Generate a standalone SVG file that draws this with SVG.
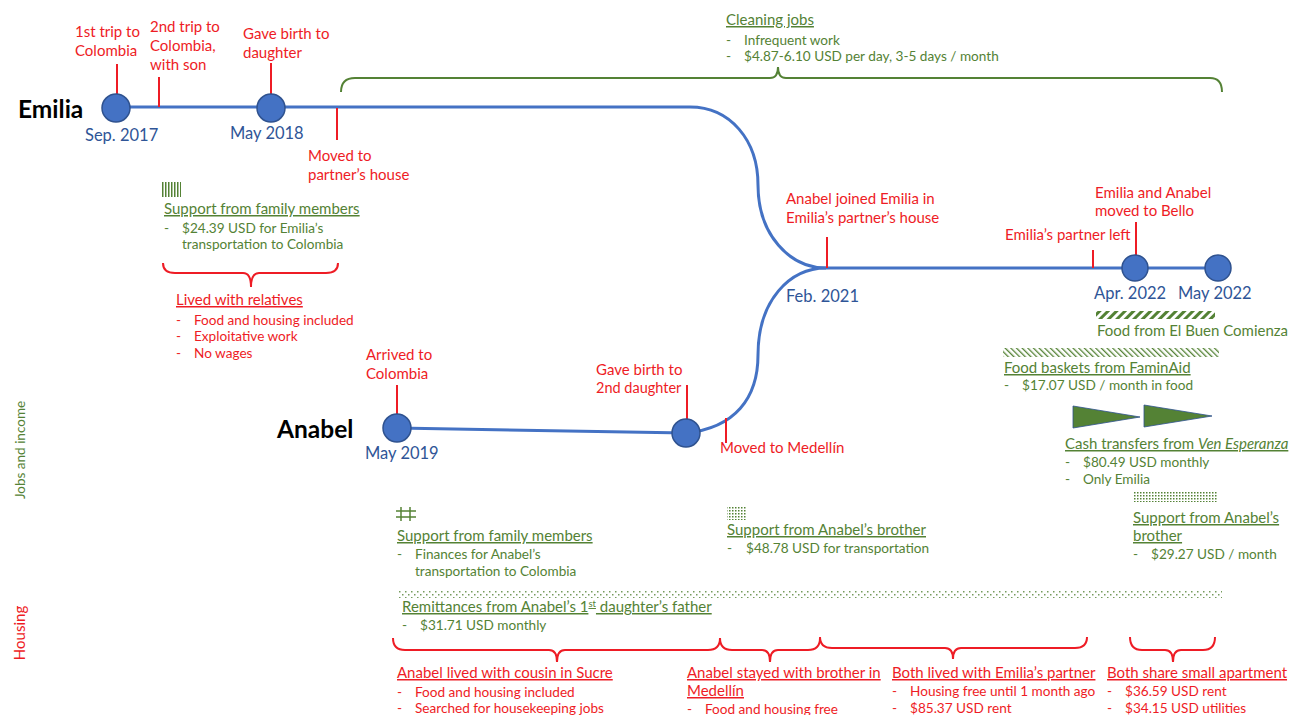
<svg xmlns="http://www.w3.org/2000/svg" width="1290" height="715" viewBox="0 0 1290 715">
<style>
text{font-family:Lato,"Liberation Sans",sans-serif}
.r{fill:#ee1c25;font-size:15px}
.g{fill:#548235;font-size:13.6px}
.gh{fill:#548235;font-size:15px;text-decoration:underline}
.rh{fill:#ee1c25;font-size:15px;text-decoration:underline}
.rb{fill:#ee1c25;font-size:13.6px}
.d{fill:#2f5597;font-size:16.5px}
.n{fill:#000;font-size:24.5px;font-weight:bold}
.tl{fill:none;stroke:#4472c4;stroke-width:3}
.tk{stroke:#ee1c25;stroke-width:2}
.c{fill:#4472c4;stroke:#2f528f;stroke-width:1.5}
.gb{fill:none;stroke:#548235;stroke-width:2}
.rbr{fill:none;stroke:#ee1c25;stroke-width:2}
</style>
<defs>
<pattern id="pv" width="3" height="10" patternUnits="userSpaceOnUse"><rect x="0" y="0" width="1.5" height="10" fill="#548235"/></pattern>
<pattern id="pdot" width="3" height="3" patternUnits="userSpaceOnUse"><rect x="0" y="0" width="1.5" height="1.5" fill="#548235"/></pattern>
<pattern id="pdot2" width="6" height="6" patternUnits="userSpaceOnUse"><rect x="0" y="0" width="1.5" height="1.5" fill="#548235"/><rect x="3" y="3" width="1.5" height="1.5" fill="#548235"/></pattern>
<pattern id="pdiag" width="6" height="6" patternUnits="userSpaceOnUse" patternTransform="rotate(45)"><rect x="0" y="0" width="3" height="6" fill="#548235"/></pattern>
<pattern id="pdiag2" width="4" height="4" patternUnits="userSpaceOnUse" patternTransform="rotate(-45)"><rect x="0" y="0" width="1.3" height="4" fill="#548235"/></pattern>
</defs>

<g id="axis-labels">
<text transform="translate(25 450) rotate(-90)" text-anchor="middle" style="fill:#548235;font-size:13.5px">Jobs and income</text>
<text transform="translate(25 633) rotate(-90)" text-anchor="middle" style="fill:#ee1c25;font-size:15px">Housing</text>
</g>

<g id="connectors">
<path class="tl" d="M116 107 L690 107 C730 107 758 140 758 185 C758 235 790 268 826 268 L1218 268"/>
<path class="tl" d="M397 428 L686 433 C735 428 758 398 758 355 C758 300 790 268 826 268"/>
<line class="tk" x1="117" y1="64" x2="117" y2="94"/>
<line class="tk" x1="159" y1="77" x2="159" y2="107"/>
<line class="tk" x1="271" y1="63" x2="271" y2="94"/>
<line class="tk" x1="337" y1="108" x2="337" y2="140"/>
<line class="tk" x1="827" y1="237" x2="827" y2="268"/>
<line class="tk" x1="1093" y1="250" x2="1093" y2="268"/>
<line class="tk" x1="1136" y1="222" x2="1136" y2="255"/>
<line class="tk" x1="397" y1="385" x2="397" y2="414"/>
<line class="tk" x1="687" y1="385" x2="687" y2="420"/>
<line class="tk" x1="726" y1="418" x2="726" y2="443"/>
</g>

<g id="emilia">
<text class="n" x="18" y="118">Emilia</text>
<circle class="c" cx="116" cy="108" r="14"/>
<circle class="c" cx="271" cy="108" r="14"/>
<text class="d" x="85" y="141">Sep. 2017</text>
<text class="d" x="230" y="139">May 2018</text>
<text class="r" x="75" y="37">1st trip to</text>
<text class="r" x="75" y="56">Colombia</text>
<text class="r" x="150" y="32">2nd trip to</text>
<text class="r" x="150" y="51">Colombia,</text>
<text class="r" x="150" y="70">with son</text>
<text class="r" x="243" y="39">Gave birth to</text>
<text class="r" x="243" y="58">daughter</text>
<text class="r" x="308" y="161">Moved to</text>
<text class="r" x="308" y="180">partner’s house</text>
</g>

<g id="anabel">
<text class="n" x="277" y="438">Anabel</text>
<circle class="c" cx="397" cy="428" r="14"/>
<circle class="c" cx="686" cy="433" r="14"/>
<text class="d" x="365" y="459">May 2019</text>
<text class="r" x="366" y="360">Arrived to</text>
<text class="r" x="366" y="379">Colombia</text>
<text class="r" x="596" y="375">Gave birth to</text>
<text class="r" x="596" y="393" style="font-size:14.5px">2nd daughter</text>
<text class="r" x="720" y="453">Moved to Medellín</text>
</g>

<g id="together">
<circle class="c" cx="1135" cy="268" r="13"/>
<circle class="c" cx="1218" cy="268" r="13"/>
<text class="d" x="786" y="302">Feb. 2021</text>
<text class="d" x="1094" y="299">Apr. 2022</text>
<text class="d" x="1178" y="299">May 2022</text>
<text class="r" x="786" y="204">Anabel joined Emilia in</text>
<text class="r" x="786" y="223">Emilia’s partner’s house</text>
<text class="r" x="1005" y="240">Emilia’s partner left</text>
<text class="r" x="1095" y="198">Emilia and Anabel</text>
<text class="r" x="1095" y="216">moved to Bello</text>
</g>

<g id="cleaning-jobs">
<path class="gb" d="M341 92 Q341 78 355 78 L770 78 Q778 78 778 67 Q778 78 786 78 L1210 78 Q1222 78 1222 92"/>
<text class="gh" x="726" y="25">Cleaning jobs</text>
<text class="g" x="726" y="45">-</text><text class="g" x="744" y="45">Infrequent work</text>
<text class="g" x="726" y="61">-</text><text class="g" x="744" y="61">$4.87-6.10 USD per day, 3-5 days / month</text>
</g>

<g id="emilia-family-support">
<rect x="161" y="182" width="20" height="15" fill="url(#pv)"/>
<text class="gh" x="164" y="214">Support from family members</text>
<text class="g" x="164" y="233">-</text><text class="g" x="182" y="233">$24.39 USD for Emilia’s</text>
<text class="g" x="182" y="249">transportation to Colombia</text>
</g>

<g id="lived-with-relatives">
<path class="rbr" d="M163 263 Q163 273 175 273 L243 273 Q251 273 251 287 Q251 273 259 273 L326 273 Q338 273 338 263"/>
<text class="rh" x="176" y="305">Lived with relatives</text>
<text class="rb" x="176" y="325">-</text><text class="rb" x="194" y="325">Food and housing included</text>
<text class="rb" x="176" y="341">-</text><text class="rb" x="194" y="341">Exploitative work</text>
<text class="rb" x="176" y="358">-</text><text class="rb" x="194" y="358">No wages</text>
</g>

<g id="anabel-family-support">
<g stroke="#548235" stroke-width="1.5">
<line x1="401" y1="507" x2="401" y2="521"/><line x1="410" y1="507" x2="410" y2="521"/>
<line x1="396" y1="511" x2="416" y2="511"/><line x1="396" y1="517" x2="416" y2="517"/>
</g>
<text class="gh" x="397" y="541">Support from family members</text>
<text class="g" x="397" y="559">-</text><text class="g" x="415" y="559">Finances for Anabel’s</text>
<text class="g" x="415" y="576">transportation to Colombia</text>
</g>

<g id="anabel-brother-support">
<rect x="727" y="507" width="20" height="13" fill="url(#pdot)"/>
<text class="gh" x="727" y="535">Support from Anabel’s brother</text>
<text class="g" x="727" y="553">-</text><text class="g" x="746" y="553">$48.78 USD for transportation</text>
</g>

<g id="remittances">
<rect x="398" y="590" width="824" height="8" fill="url(#pdot2)" opacity="0.8"/>
<text class="gh" x="402" y="612">Remittances from Anabel’s 1<tspan font-size="9.5" dy="-5">st</tspan><tspan dy="5"> daughter’s father</tspan></text>
<text class="g" x="402" y="630">-</text><text class="g" x="420" y="630">$31.71 USD monthly</text>
</g>

<g id="food-el-buen-comienza">
<rect x="1096" y="311" width="119" height="8" fill="url(#pdiag)"/>
<text class="g" x="1097" y="336" style="font-size:15px">Food from El Buen Comienza</text>
</g>

<g id="faminaid">
<rect x="1003" y="348" width="216" height="9" fill="url(#pdiag2)"/>
<text class="gh" x="1004" y="373">Food baskets from FaminAid</text>
<text class="g" x="1004" y="390">-</text><text class="g" x="1022" y="390">$17.07 USD / month in food</text>
</g>

<g id="ven-esperanza">
<polygon points="1073,406 1073,428 1140,417" fill="#548235" stroke="#2f528f" stroke-width="0.8"/>
<polygon points="1144,405 1144,427 1212,416" fill="#548235" stroke="#2f528f" stroke-width="0.8"/>
<text class="gh" x="1065" y="449">Cash transfers from <tspan font-style="italic">Ven Esperanza</tspan></text>
<text class="g" x="1065" y="467">-</text><text class="g" x="1083" y="467">$80.49 USD monthly</text>
<text class="g" x="1065" y="484">-</text><text class="g" x="1083" y="484">Only Emilia</text>
</g>

<g id="anabel-brother-support-2">
<rect x="1134" y="492" width="84" height="10" fill="url(#pdot)"/>
<text class="gh" x="1133" y="523">Support from Anabel’s</text>
<text class="gh" x="1133" y="541">brother</text>
<text class="g" x="1133" y="559">-</text><text class="g" x="1151" y="559">$29.27 USD / month</text>
</g>

<g id="housing-sucre">
<path class="rbr" d="M393 638 Q393 650 405 650 L549 650 Q557 650 557 662 Q557 650 565 650 L708 650 Q720 650 720 638"/>
<text class="rh" x="397" y="678">Anabel lived with cousin in Sucre</text>
<text class="rb" x="397" y="697">-</text><text class="rb" x="415" y="697">Food and housing included</text>
<text class="rb" x="397" y="713">-</text><text class="rb" x="415" y="713">Searched for housekeeping jobs</text>
</g>

<g id="housing-brother">
<path class="rbr" d="M720 638 Q720 650 732 650 L762 650 Q770 650 770 662 Q770 650 778 650 L808 650 Q820 650 820 638"/>
<text class="rh" x="687" y="678">Anabel stayed with brother in</text>
<text class="rh" x="687" y="696">Medellín</text>
<text class="rb" x="687" y="714">-</text><text class="rb" x="705" y="714">Food and housing free</text>
</g>

<g id="housing-partner">
<path class="rbr" d="M820 637 Q820 648 832 648 L945 648 Q953 648 953 659 Q953 648 961 648 L1075 648 Q1087 648 1087 637"/>
<text class="rh" x="892" y="678">Both lived with Emilia’s partner</text>
<text class="rb" x="892" y="696">-</text><text class="rb" x="910" y="696">Housing free until 1 month ago</text>
<text class="rb" x="892" y="713">-</text><text class="rb" x="910" y="713">$85.37 USD rent</text>
</g>

<g id="housing-apartment">
<path class="rbr" d="M1130 637 Q1130 650 1142 650 L1165 650 Q1173 650 1173 662 Q1173 650 1181 650 L1203 650 Q1215 650 1215 637"/>
<text class="rh" x="1107" y="678">Both share small apartment</text>
<text class="rb" x="1107" y="696">-</text><text class="rb" x="1125" y="696">$36.59 USD rent</text>
<text class="rb" x="1107" y="713">-</text><text class="rb" x="1125" y="713">$34.15 USD utilities</text>
</g>
</svg>
